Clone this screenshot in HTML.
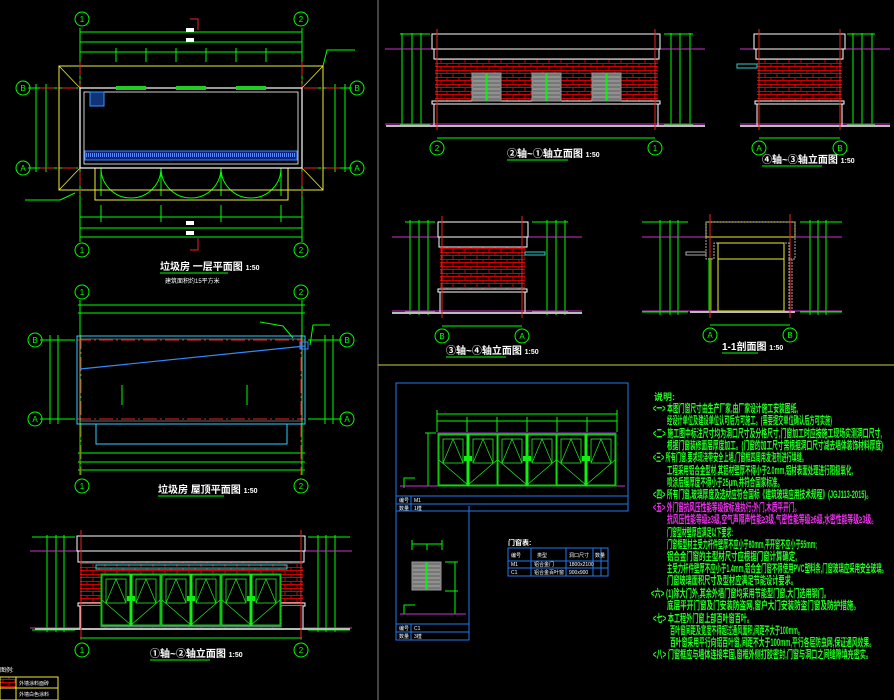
<!DOCTYPE html>
<html><head><meta charset="utf-8"><style>
html,body{margin:0;padding:0;background:#000;}
svg{display:block;}
text{font-family:"Liberation Sans","Noto Sans CJK SC",sans-serif;}
</style></head><body>
<svg width="894" height="700" viewBox="0 0 894 700" xmlns="http://www.w3.org/2000/svg">
<defs>
<pattern id="brick" width="12" height="7" patternUnits="userSpaceOnUse">
<rect width="12" height="7" fill="#000"/>
<path d="M0 0.5H12M0 3.5H12M3 0.5V3.5M9 3.5V7" stroke="#c00" stroke-width="1" fill="none"/>
</pattern>
<g id="door">
<rect x="0" y="0" width="60" height="52" fill="none" stroke="#0c0" stroke-width="1"/>
<rect x="1" y="1" width="28" height="50" fill="none" stroke="#2e2" stroke-width="0.8"/>
<rect x="31" y="1" width="28" height="50" fill="none" stroke="#2e2" stroke-width="0.8"/>
<rect x="5" y="5" width="20" height="24" fill="none" stroke="#2e2" stroke-width="0.8"/>
<rect x="35" y="5" width="20" height="24" fill="none" stroke="#2e2" stroke-width="0.8"/>
<path d="M5 29L15 5L25 29M35 29L45 5L55 29M1 26L30 51L1 51M59 26L30 51" stroke="#2e2" stroke-width="0.7" fill="none"/>
<rect x="28.5" y="0" width="3" height="52" fill="#1e1"/>
<rect x="26" y="22" width="8" height="5" fill="#1e1"/>
</g>
<g id="louver">
<rect x="0" y="0" width="29" height="28" fill="#777" stroke="#999"/>
<path d="M1 4H28M1 8H28M1 12H28M1 16H28M1 20H28M1 24H28" stroke="#aaa" stroke-width="1"/>
<rect x="13.5" y="0" width="2" height="28" fill="#1e1"/>
</g>
<g id="circ"><circle r="7" fill="none" stroke="#0f0" stroke-width="1"/></g>
</defs>

<line x1="378" y1="0" x2="378" y2="700" stroke="#888" stroke-width="1"/>
<line x1="378" y1="365" x2="894" y2="365" stroke="#cc4" stroke-width="1"/>

<!-- PLAN 1 -->
<g stroke="#0f0" stroke-width="1" fill="none">
<line x1="80" y1="32" x2="302" y2="32"/><line x1="80" y1="42" x2="302" y2="42"/><line x1="80" y1="52" x2="302" y2="52"/>
<line x1="80" y1="217" x2="302" y2="217"/><line x1="80" y1="228" x2="302" y2="228"/><line x1="80" y1="237" x2="302" y2="237"/>
<line x1="80" y1="28" x2="80" y2="242"/><line x1="302" y1="28" x2="302" y2="242"/>
<line x1="116" y1="48" x2="116" y2="62"/><line x1="146" y1="48" x2="146" y2="62"/><line x1="176" y1="48" x2="176" y2="62"/><line x1="206" y1="48" x2="206" y2="62"/><line x1="236" y1="48" x2="236" y2="62"/><line x1="266" y1="48" x2="266" y2="62"/>
<line x1="101" y1="205" x2="101" y2="222"/><line x1="161" y1="205" x2="161" y2="222"/><line x1="221" y1="205" x2="221" y2="222"/><line x1="281" y1="205" x2="281" y2="222"/>
<line x1="28" y1="88" x2="78" y2="88"/><line x1="28" y1="168" x2="78" y2="168"/>
<line x1="305" y1="88" x2="352" y2="88"/><line x1="305" y1="168" x2="352" y2="168"/>
<line x1="36" y1="84" x2="36" y2="172"/><line x1="46" y1="84" x2="46" y2="172"/>
<line x1="335" y1="84" x2="335" y2="172"/><line x1="345" y1="84" x2="345" y2="172"/>
<path d="M101 168A30 30 0 0 0 131 198M161 168A30 30 0 0 1 131 198M161 168A30 30 0 0 0 191 198M221 168A30 30 0 0 1 191 198M221 168A30 30 0 0 0 251 198M281 168A30 30 0 0 1 251 198"/>
<line x1="101" y1="168" x2="101" y2="196"/><line x1="161" y1="168" x2="161" y2="196"/><line x1="221" y1="168" x2="221" y2="196"/><line x1="281" y1="168" x2="281" y2="196"/>
<path d="M323 66L327 50H355M60 200L75 193M25 200H60"/>
</g>
<rect x="59" y="66" width="264" height="124" fill="none" stroke="#ee3" stroke-width="1"/>
<path d="M59 66L80 88M323 66L302 88M59 190L80 168M323 190L302 168" stroke="#ee3" stroke-width="0.8"/>
<rect x="95" y="168" width="193" height="32" fill="none" stroke="#ee3" stroke-width="1"/>
<line x1="40" y1="88" x2="340" y2="88" stroke="#e22" stroke-dasharray="14 3 2 3"/>
<line x1="40" y1="168" x2="340" y2="168" stroke="#e22" stroke-dasharray="14 3 2 3"/>
<line x1="80" y1="62" x2="80" y2="195" stroke="#e22" stroke-dasharray="14 3 2 3"/>
<line x1="302" y1="62" x2="302" y2="195" stroke="#e22" stroke-dasharray="14 3 2 3"/>
<rect x="80" y="88" width="222" height="80" fill="none" stroke="#fff" stroke-width="1.2"/>
<rect x="84" y="92" width="214" height="72" fill="none" stroke="#fff" stroke-width="0.8"/>
<rect x="116" y="86" width="30" height="4" fill="#2c2"/><rect x="176" y="86" width="30" height="4" fill="#2c2"/><rect x="236" y="86" width="30" height="4" fill="#2c2"/>
<rect x="85" y="151" width="212" height="9" fill="#127" stroke="#38f"/>
<path d="M86 155H296" stroke="#58f" stroke-width="4" stroke-dasharray="1 1"/>
<rect x="90" y="92" width="14" height="14" fill="#137" stroke="#39f"/>
<g fill="#0f0" font-size="8" text-anchor="middle">
<use href="#circ" x="82" y="19"/><use href="#circ" x="301" y="19"/><use href="#circ" x="82" y="250"/><use href="#circ" x="301" y="250"/>
<use href="#circ" x="23" y="88"/><use href="#circ" x="23" y="168"/><use href="#circ" x="357" y="88"/><use href="#circ" x="357" y="168"/>
<text x="82" y="22">1</text><text x="301" y="22">2</text><text x="82" y="253">1</text><text x="301" y="253">2</text>
<text x="23" y="91">B</text><text x="23" y="171">A</text><text x="357" y="91">B</text><text x="357" y="171">A</text>
</g>
<path d="M190 19H198V30M190 250H198V238" stroke="#e22" fill="none"/>
<g fill="#fff"><rect x="186" y="28" width="8" height="4"/><rect x="186" y="38" width="8" height="4"/><rect x="186" y="231" width="8" height="4"/><rect x="186" y="221" width="8" height="4"/></g>
<text x="160" y="270" fill="#fff" font-size="10" font-weight="bold">垃圾房 一层平面图 <tspan font-size="7">1:50</tspan></text>
<line x1="160" y1="273" x2="228" y2="273" stroke="#0f0"/>
<text x="165" y="283" fill="#fff" font-size="6">建筑面积约15平方米</text>

<!-- ROOF PLAN -->
<g stroke="#0f0" stroke-width="1" fill="none">
<line x1="78" y1="305" x2="305" y2="305"/><line x1="78" y1="313" x2="305" y2="313"/>
<line x1="78" y1="453" x2="305" y2="453"/><line x1="78" y1="462" x2="305" y2="462"/><line x1="78" y1="470" x2="305" y2="470"/>
<line x1="80" y1="300" x2="80" y2="475"/><line x1="302" y1="300" x2="302" y2="475"/>
<line x1="40" y1="340" x2="75" y2="340"/><line x1="40" y1="419" x2="75" y2="419"/><line x1="308" y1="340" x2="342" y2="340"/><line x1="308" y1="419" x2="342" y2="419"/>
<line x1="50" y1="335" x2="50" y2="424"/><line x1="58" y1="335" x2="58" y2="424"/><line x1="325" y1="335" x2="325" y2="424"/><line x1="333" y1="335" x2="333" y2="424"/>
<line x1="122" y1="385" x2="122" y2="405"/><line x1="247" y1="385" x2="247" y2="405"/>
<path d="M260 322L283 326L293 338M310 345L313 325H330"/>
</g>
<line x1="77" y1="340" x2="305" y2="340" stroke="#e22" stroke-dasharray="14 3 2 3"/>
<line x1="77" y1="419" x2="305" y2="419" stroke="#e22" stroke-dasharray="14 3 2 3"/>
<line x1="81" y1="335" x2="81" y2="475" stroke="#e22" stroke-dasharray="14 3 2 3"/>
<line x1="301" y1="335" x2="301" y2="475" stroke="#e22" stroke-dasharray="14 3 2 3"/>
<rect x="77" y="336" width="228" height="88" fill="none" stroke="#3cf"/>
<rect x="80" y="339" width="222" height="82" fill="none" stroke="#aaa" stroke-width="0.6"/>
<rect x="96" y="424" width="191" height="20" fill="none" stroke="#3cf"/>
<line x1="80" y1="369" x2="305" y2="346" stroke="#38f" stroke-width="1.2"/>
<rect x="300" y="342" width="8" height="7" fill="none" stroke="#38f"/>
<g fill="#0f0" font-size="8" text-anchor="middle">
<use href="#circ" x="82" y="292"/><use href="#circ" x="301" y="292"/><use href="#circ" x="82" y="486"/><use href="#circ" x="301" y="486"/>
<use href="#circ" x="35" y="340"/><use href="#circ" x="35" y="419"/><use href="#circ" x="347" y="340"/><use href="#circ" x="347" y="419"/>
<text x="82" y="295">1</text><text x="301" y="295">2</text><text x="82" y="489">1</text><text x="301" y="489">2</text>
<text x="35" y="343">B</text><text x="35" y="422">A</text><text x="347" y="343">B</text><text x="347" y="422">A</text>
</g>
<text x="158" y="493" fill="#fff" font-size="10" font-weight="bold">垃圾房 屋顶平面图 <tspan font-size="7">1:50</tspan></text>
<line x1="158" y1="496" x2="224" y2="496" stroke="#0f0"/>

<!-- ELEVATION 1-2 -->
<g stroke="#0f0" stroke-width="1" fill="none">
<line x1="32" y1="537" x2="75" y2="537"/><line x1="32" y1="551" x2="75" y2="551"/><line x1="32" y1="630" x2="75" y2="630"/>
<line x1="47" y1="535" x2="47" y2="632"/><line x1="56" y1="535" x2="56" y2="632"/><line x1="64" y1="535" x2="64" y2="632"/>
<line x1="308" y1="537" x2="350" y2="537"/><line x1="308" y1="551" x2="350" y2="551"/><line x1="308" y1="630" x2="350" y2="630"/>
<line x1="318" y1="535" x2="318" y2="632"/><line x1="326" y1="535" x2="326" y2="632"/><line x1="335" y1="535" x2="335" y2="632"/>
<line x1="80" y1="638" x2="302" y2="638"/>
</g>
<line x1="30" y1="551" x2="352" y2="551" stroke="#c3c"/>
<line x1="30" y1="628" x2="352" y2="628" stroke="#c3c"/>
<rect x="80" y="562" width="223" height="66" fill="url(#brick)"/>
<rect x="77" y="536" width="228" height="15" fill="#000" stroke="#fff"/>
<rect x="78" y="551" width="226" height="11" fill="#000" stroke="#fff"/>
<rect x="78" y="603" width="24" height="3" fill="#000" stroke="#fff"/><rect x="281" y="603" width="24" height="3" fill="#000" stroke="#fff"/>
<rect x="80" y="606" width="21" height="22" fill="#000"/><rect x="282" y="606" width="21" height="22" fill="#000"/>
<line x1="80" y1="606" x2="80" y2="628" stroke="#fff"/><line x1="303" y1="606" x2="303" y2="628" stroke="#fff"/>
<rect x="96" y="565" width="191" height="4" fill="none" stroke="#3cc"/>
<rect x="101" y="574" width="180" height="53" fill="#000" stroke="#93c"/>
<use href="#door" x="101" y="574"/><use href="#door" x="161" y="574"/><use href="#door" x="221" y="574"/>
<line x1="35" y1="629" x2="350" y2="629" stroke="#bbb" stroke-width="2"/>
<line x1="81" y1="530" x2="81" y2="640" stroke="#e22"/><line x1="301" y1="530" x2="301" y2="640" stroke="#e22"/>
<g fill="#0f0" font-size="8" text-anchor="middle">
<use href="#circ" x="82" y="650"/><use href="#circ" x="301" y="650"/>
<text x="82" y="653">1</text><text x="301" y="653">2</text></g>
<text x="150" y="657" fill="#fff" font-size="10" font-weight="bold">①轴~②轴立面图 <tspan font-size="7">1:50</tspan></text>
<line x1="150" y1="660" x2="210" y2="660" stroke="#0f0"/>
<rect x="0" y="677" width="16" height="11" fill="url(#brick)"/>
<rect x="0" y="677" width="58" height="23" fill="none" stroke="#ee3"/>
<line x1="16" y1="677" x2="16" y2="700" stroke="#ee3"/><line x1="0" y1="688" x2="58" y2="688" stroke="#ee3"/>
<text x="19" y="685" fill="#fff" font-size="5">外墙涂料面砖</text><text x="19" y="696" fill="#fff" font-size="5">外墙白色涂料</text>
<text x="0" y="672" fill="#fff" font-size="6">图例:</text>

<!-- ELEVATION 2-1 -->
<g stroke="#0f0" stroke-width="1" fill="none">
<line x1="400" y1="34" x2="430" y2="34"/><line x1="400" y1="125" x2="430" y2="125"/>
<line x1="402" y1="33" x2="402" y2="127"/><line x1="412" y1="33" x2="412" y2="127"/><line x1="421" y1="33" x2="421" y2="127"/>
<line x1="664" y1="34" x2="693" y2="34"/><line x1="664" y1="125" x2="693" y2="125"/>
<line x1="671" y1="33" x2="671" y2="127"/><line x1="680" y1="33" x2="680" y2="127"/><line x1="690" y1="33" x2="690" y2="127"/>
<line x1="437" y1="138" x2="655" y2="138"/>
</g>
<line x1="385" y1="49" x2="705" y2="49" stroke="#c3c"/><line x1="385" y1="124" x2="705" y2="124" stroke="#c3c"/>
<rect x="435" y="59" width="223" height="42" fill="url(#brick)"/>
<rect x="432" y="34" width="228" height="15" fill="#000" stroke="#fff"/>
<rect x="434" y="49" width="225" height="10" fill="#000" stroke="#fff"/>
<rect x="432" y="101" width="228" height="3" fill="#000" stroke="#fff"/>
<line x1="434" y1="104" x2="434" y2="126" stroke="#fff"/><line x1="658" y1="104" x2="658" y2="126" stroke="#fff"/>
<use href="#louver" x="472" y="73"/><use href="#louver" x="532" y="73"/><use href="#louver" x="592" y="73"/>
<line x1="386" y1="126" x2="705" y2="126" stroke="#bbb" stroke-width="2"/>
<line x1="437" y1="29" x2="437" y2="130" stroke="#e22"/><line x1="655" y1="29" x2="655" y2="130" stroke="#e22"/>
<g fill="#0f0" font-size="8" text-anchor="middle">
<use href="#circ" x="437" y="148"/><use href="#circ" x="655" y="148"/>
<text x="437" y="151">2</text><text x="655" y="151">1</text></g>
<text x="507" y="157" fill="#fff" font-size="10" font-weight="bold">②轴~①轴立面图 <tspan font-size="7">1:50</tspan></text>
<line x1="507" y1="160" x2="568" y2="160" stroke="#0f0"/>

<!-- side elevation top -->
<g stroke="#0f0" stroke-width="1" fill="none">
<line x1="847" y1="34" x2="875" y2="34"/><line x1="847" y1="125" x2="875" y2="125"/>
<line x1="853" y1="33" x2="853" y2="127"/><line x1="862" y1="33" x2="862" y2="127"/><line x1="872" y1="33" x2="872" y2="127"/>
<line x1="759" y1="138" x2="840" y2="138"/>
</g>
<line x1="740" y1="49" x2="890" y2="49" stroke="#c3c"/><line x1="740" y1="124" x2="890" y2="124" stroke="#c3c"/>
<rect x="757" y="59" width="85" height="42" fill="url(#brick)"/>
<rect x="754" y="34" width="91" height="15" fill="#000" stroke="#fff"/>
<rect x="756" y="49" width="87" height="10" fill="#000" stroke="#fff"/>
<rect x="755" y="101" width="89" height="3" fill="#000" stroke="#fff"/>
<line x1="757" y1="104" x2="757" y2="126" stroke="#fff"/><line x1="842" y1="104" x2="842" y2="126" stroke="#fff"/>
<rect x="737" y="64" width="20" height="4" fill="none" stroke="#3cc"/>
<line x1="740" y1="126" x2="890" y2="126" stroke="#bbb" stroke-width="2"/>
<line x1="759" y1="29" x2="759" y2="130" stroke="#e22"/><line x1="840" y1="29" x2="840" y2="130" stroke="#e22"/>
<g fill="#0f0" font-size="8" text-anchor="middle">
<use href="#circ" x="759" y="148"/><use href="#circ" x="840" y="148"/>
<text x="759" y="151">A</text><text x="840" y="151">B</text></g>
<text x="762" y="163" fill="#fff" font-size="10" font-weight="bold">④轴~③轴立面图 <tspan font-size="7">1:50</tspan></text>
<line x1="762" y1="166" x2="822" y2="166" stroke="#0f0"/>

<!-- side elevation bottom -->
<g stroke="#0f0" stroke-width="1" fill="none">
<line x1="405" y1="222" x2="435" y2="222"/><line x1="405" y1="312" x2="435" y2="312"/>
<line x1="410" y1="220" x2="410" y2="315"/><line x1="419" y1="220" x2="419" y2="315"/><line x1="428" y1="220" x2="428" y2="315"/>
<line x1="532" y1="222" x2="568" y2="222"/><line x1="532" y1="312" x2="568" y2="312"/>
<line x1="547" y1="220" x2="547" y2="315"/><line x1="556" y1="220" x2="556" y2="315"/><line x1="565" y1="220" x2="565" y2="315"/>
<line x1="442" y1="326" x2="522" y2="326"/>
</g>
<line x1="392" y1="237" x2="582" y2="237" stroke="#c3c"/><line x1="392" y1="311" x2="582" y2="311" stroke="#c3c"/>
<rect x="440" y="247" width="85" height="42" fill="url(#brick)"/>
<rect x="438" y="222" width="90" height="15" fill="#000" stroke="#fff"/>
<rect x="439" y="237" width="88" height="10" fill="#000" stroke="#fff"/>
<rect x="438" y="289" width="89" height="3" fill="#000" stroke="#fff"/>
<line x1="440" y1="292" x2="440" y2="313" stroke="#fff"/><line x1="525" y1="292" x2="525" y2="313" stroke="#fff"/>
<rect x="525" y="252" width="20" height="3" fill="none" stroke="#3cc"/>
<line x1="392" y1="313" x2="582" y2="313" stroke="#bbb" stroke-width="2"/>
<line x1="442" y1="216" x2="442" y2="318" stroke="#e22"/><line x1="522" y1="216" x2="522" y2="318" stroke="#e22"/>
<g fill="#0f0" font-size="8" text-anchor="middle">
<use href="#circ" x="442" y="336"/><use href="#circ" x="522" y="336"/>
<text x="442" y="339">B</text><text x="522" y="339">A</text></g>
<text x="446" y="354" fill="#fff" font-size="10" font-weight="bold">③轴~④轴立面图 <tspan font-size="7">1:50</tspan></text>
<line x1="446" y1="357" x2="506" y2="357" stroke="#0f0"/>

<!-- section 1-1 -->
<g stroke="#0f0" stroke-width="1" fill="none">
<line x1="642" y1="222" x2="688" y2="222"/><line x1="642" y1="312" x2="688" y2="312"/>
<line x1="660" y1="220" x2="660" y2="315"/><line x1="670" y1="220" x2="670" y2="315"/><line x1="678" y1="220" x2="678" y2="315"/>
<line x1="800" y1="222" x2="842" y2="222"/><line x1="800" y1="312" x2="842" y2="312"/>
<line x1="810" y1="220" x2="810" y2="315"/><line x1="818" y1="220" x2="818" y2="315"/><line x1="826" y1="220" x2="826" y2="315"/>
<line x1="710" y1="325" x2="790" y2="325"/>
<line x1="709" y1="258" x2="709" y2="312"/><line x1="711" y1="258" x2="711" y2="312"/>
</g>
<line x1="642" y1="237" x2="842" y2="237" stroke="#c3c"/><line x1="642" y1="311" x2="842" y2="311" stroke="#c3c"/>
<rect x="706" y="222" width="89" height="15" fill="none" stroke="#ee3"/>
<path d="M706 222H795V259H789V243H714V259H706Z" fill="none" stroke="#aaa" stroke-dasharray="2 1"/>
<rect x="718" y="243" width="66" height="68" fill="none" stroke="#ee3"/>
<line x1="718" y1="259" x2="784" y2="259" stroke="#ee3"/>
<path d="M789 259V310M792 259V310" stroke="#aaa" stroke-dasharray="2 1"/>
<rect x="686" y="252" width="20" height="3" fill="none" stroke="#aaa"/>
<line x1="690" y1="312" x2="795" y2="312" stroke="#bbb" stroke-width="2"/>
<line x1="710" y1="214" x2="710" y2="318" stroke="#e22"/><line x1="790" y1="214" x2="790" y2="318" stroke="#e22"/>
<g fill="#0f0" font-size="8" text-anchor="middle">
<use href="#circ" x="710" y="335"/><use href="#circ" x="790" y="335"/>
<text x="710" y="338">A</text><text x="790" y="338">B</text></g>
<text x="722" y="350" fill="#fff" font-size="10" font-weight="bold">1-1剖面图 <tspan font-size="7">1:50</tspan></text>
<line x1="722" y1="353" x2="758" y2="353" stroke="#0f0"/>

<!-- DOOR / WINDOW DETAILS -->
<g stroke="#27e" stroke-width="1" fill="none">
<rect x="396" y="383" width="232" height="128"/>
<line x1="396" y1="496" x2="628" y2="496"/><line x1="396" y1="504" x2="628" y2="504"/>
<line x1="411" y1="496" x2="411" y2="511"/>
<path d="M396 511V640H469V506"/>
<line x1="396" y1="624" x2="469" y2="624"/><line x1="396" y1="632" x2="469" y2="632"/><line x1="411" y1="624" x2="411" y2="640"/>
<rect x="508" y="548" width="100" height="28"/>
<line x1="508" y1="561" x2="608" y2="561"/><line x1="508" y1="568" x2="608" y2="568"/>
<line x1="531" y1="548" x2="531" y2="576"/><line x1="566" y1="548" x2="566" y2="576"/><line x1="593" y1="548" x2="593" y2="576"/><line x1="601" y1="548" x2="601" y2="576"/>
</g>
<g stroke="#0f0" stroke-width="1" fill="none">
<line x1="437" y1="414" x2="617" y2="414"/><line x1="437" y1="421" x2="617" y2="421"/>
<line x1="437" y1="410" x2="437" y2="432"/><line x1="467" y1="417" x2="467" y2="432"/><line x1="497" y1="417" x2="497" y2="432"/><line x1="527" y1="417" x2="527" y2="432"/><line x1="557" y1="417" x2="557" y2="432"/><line x1="587" y1="417" x2="587" y2="432"/><line x1="617" y1="410" x2="617" y2="432"/>
<line x1="428" y1="433" x2="428" y2="486"/><line x1="425" y1="433" x2="436" y2="433"/>
<line x1="412" y1="544" x2="442" y2="544"/><line x1="412" y1="540" x2="412" y2="550"/><line x1="442" y1="540" x2="442" y2="550"/><line x1="427" y1="544" x2="427" y2="550"/>
<line x1="455" y1="562" x2="455" y2="614"/><line x1="445" y1="562" x2="458" y2="562"/><line x1="445" y1="591" x2="458" y2="591"/>
<path d="M404 488V478H415M404 614V605H415"/>
</g>
<line x1="400" y1="486" x2="625" y2="486" stroke="#c3c"/>
<line x1="400" y1="614" x2="466" y2="614" stroke="#c3c"/>
<rect x="438" y="433" width="178" height="53" fill="none" stroke="#93c"/>
<use href="#door" x="438" y="434"/><use href="#door" x="497" y="434"/><use href="#door" x="556" y="434"/>
<use href="#louver" x="412" y="562"/>
<text x="508" y="545" fill="#fff" font-size="7" font-weight="bold">门窗表:</text>
<g fill="#fff" font-size="5">
<text x="511" y="557">编号</text><text x="537" y="557">类型</text><text x="569" y="557">洞口尺寸</text><text x="595" y="557">数量</text>
<text x="511" y="566">M1</text><text x="534" y="566">铝合金门</text><text x="569" y="566">1800x2100</text>
<text x="511" y="574">C1</text><text x="534" y="574">铝合金百叶窗</text><text x="569" y="574">900x900</text>
<text x="399" y="502">编号</text><text x="414" y="502">M1</text><text x="399" y="510">数量</text><text x="414" y="510">1樘</text>
<text x="399" y="630">编号</text><text x="414" y="630">C1</text><text x="399" y="638">数量</text><text x="414" y="638">3樘</text>
</g>

<!-- NOTES -->
<g font-size="11" fill="#2f2" font-weight="bold">
<text x="654" y="400" font-size="9">说明:</text>
<text x="653" y="412" textLength="145" lengthAdjust="spacingAndGlyphs">&lt;一&gt; 本图门窗尺寸由生产厂家,由厂家设计施工安装图纸,</text>
<text x="667" y="424" textLength="165" lengthAdjust="spacingAndGlyphs">经设计单位及建设单位认可后方可施工。(需要提交单位确认后方可实施)</text>
<text x="653" y="437" textLength="229" lengthAdjust="spacingAndGlyphs">&lt;二&gt; 施工图中标注尺寸均为洞口尺寸及分格尺寸,门窗加工时应按施工现场实测洞口尺寸,</text>
<text x="667" y="449" textLength="216" lengthAdjust="spacingAndGlyphs">根据门窗装修面层厚度加工。(门窗的加工尺寸需根据洞口尺寸减去墙体装饰材料厚度)</text>
<text x="653" y="461" textLength="154" lengthAdjust="spacingAndGlyphs">&lt;三&gt; 所有门窗,要求现浇带安全上墙,门窗框四周用发泡剂进行填缝。</text>
<text x="667" y="474" textLength="186" lengthAdjust="spacingAndGlyphs">工程采用铝合金型材,其铝材壁厚不得小于2.0mm,铝材表面处理进行阳极氧化,</text>
<text x="667" y="486" textLength="116" lengthAdjust="spacingAndGlyphs">喷涂后膜厚度不得小于25μm,并符合国家标准。</text>
<text x="653" y="498" textLength="219" lengthAdjust="spacingAndGlyphs">&lt;四&gt; 所有门窗,玻璃厚度及选材应符合国标《建筑玻璃应用技术规程》(JGJ113-2015)。</text>
<text x="653" y="511" fill="#e3e" textLength="147" lengthAdjust="spacingAndGlyphs">&lt;五&gt; 外门窗抗风压性能等级按标准执行;外门,木质平开门。</text>
<text x="667" y="523" fill="#e3e" textLength="210" lengthAdjust="spacingAndGlyphs">抗风压性能等级≥3级,空气声隔声性能≥3级,气密性能等级≥6级,水密性能等级≥3级。</text>
<text x="667" y="536" textLength="66" lengthAdjust="spacingAndGlyphs">门窗型材壁厚应满足以下要求:</text>
<text x="667" y="548" textLength="150" lengthAdjust="spacingAndGlyphs">门窗框型材主受力杆件壁厚不应小于80mm,平开窗不应小于55mm;</text>
<text x="667" y="560" textLength="130" lengthAdjust="spacingAndGlyphs">铝合金门窗的主型材尺寸应根据门窗计算确定,</text>
<text x="667" y="572" textLength="220" lengthAdjust="spacingAndGlyphs">主受力杆件壁厚不应小于1.4mm,铝合金门窗不得使用PVC塑料条,门窗玻璃应采用安全玻璃。</text>
<text x="667" y="584" textLength="130" lengthAdjust="spacingAndGlyphs">门窗玻璃面积尺寸及型材应满足节能设计要求。</text>
<text x="651" y="597" textLength="179" lengthAdjust="spacingAndGlyphs">&lt;六&gt; (1)除大门外,其余外墙门窗均采用节能型门窗,大门选用钢门。</text>
<text x="667" y="609" textLength="193" lengthAdjust="spacingAndGlyphs">底层平开门窗及门安装防盗网,窗户大门安装防盗门窗及防护措施。</text>
<text x="653" y="622" textLength="100" lengthAdjust="spacingAndGlyphs">&lt;七&gt; 本工程外门窗上部百叶窗百叶。</text>
<text x="670" y="634" textLength="133" lengthAdjust="spacingAndGlyphs">百叶窗间距及宽度不得超过通风面积,间距不大于100mm。</text>
<text x="670" y="646" textLength="205" lengthAdjust="spacingAndGlyphs">百叶窗采用平行向铝百叶窗,间距不大于100mm,平行各层防虫网,保证通风效果。</text>
<text x="653" y="658" textLength="219" lengthAdjust="spacingAndGlyphs">&lt;八&gt; 门窗框应与墙体连接牢固,窗框外侧打胶密封,门窗与洞口之间缝隙填充密实。</text>
</g>
</svg>
</body></html>
